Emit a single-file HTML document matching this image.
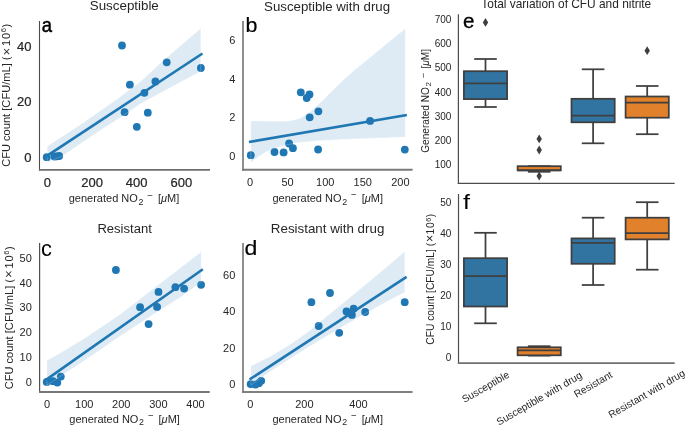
<!DOCTYPE html>
<html><head><meta charset="utf-8"><style>
html,body{margin:0;padding:0;background:#fff;}
body{width:685px;height:425px;overflow:hidden;}
svg{display:block;font-family:"Liberation Sans", sans-serif;will-change:transform;}
text.b{stroke:#262626;stroke-width:0.22px;}
</style></head><body>
<svg width="685" height="425" viewBox="0 0 685 425">
<rect width="685" height="425" fill="#fff"/>
<line x1="39.50" y1="21.00" x2="39.50" y2="170.70" stroke="#4d4d4d" stroke-width="1.1"/>
<line x1="38.95" y1="169.85" x2="210.00" y2="169.85" stroke="#6e6e6e" stroke-width="1.7"/>
<text x="124.30" y="10.30" font-size="13.35" text-anchor="middle" fill="#262626" >Susceptible</text>
<text transform="translate(41.80,32.30) scale(0.88,1)" x="0" y="0" font-size="21.0" fill="#000" stroke="#000" stroke-width="0.5">a</text>
<text class="b" x="31.50" y="162.05" font-size="13" text-anchor="end" fill="#262626" >0</text>
<text class="b" x="31.50" y="106.25" font-size="13" text-anchor="end" fill="#262626" >20</text>
<text class="b" x="31.50" y="50.55" font-size="13" text-anchor="end" fill="#262626" >40</text>
<text class="b" x="47.40" y="187.15" font-size="13" text-anchor="middle" fill="#262626" >0</text>
<text class="b" x="92.06" y="187.15" font-size="13" text-anchor="middle" fill="#262626" >200</text>
<text class="b" x="136.72" y="187.15" font-size="13" text-anchor="middle" fill="#262626" >400</text>
<text class="b" x="181.38" y="187.15" font-size="13" text-anchor="middle" fill="#262626" >600</text>
<text x="124.00" y="202.40" font-size="11" text-anchor="middle" fill="#262626">generated NO<tspan font-size="8.80" dx="0.66" dy="2.53">2</tspan><tspan font-size="9.68" dx="3.96" dy="-6.16">−</tspan><tspan dx="4.95" dy="3.63">[</tspan><tspan font-style="italic">μ</tspan>M]</text>
<text transform="translate(10.40,95.30) rotate(-90)" x="0" y="0" font-size="11.1" text-anchor="middle" fill="#262626">CFU count [CFU/mL] (<tspan font-size="13.32" dx="0.89" dy="0.22">×</tspan><tspan dx="1.78 0.89" dy="-0.22">10</tspan><tspan font-size="7.55" dx="0.67" dy="-4.11">6</tspan><tspan dx="0.44" dy="4.11">)</tspan></text>
<circle cx="122.00" cy="45.50" r="3.9" fill="#1f77b4"/>
<circle cx="166.70" cy="62.30" r="3.9" fill="#1f77b4"/>
<circle cx="200.90" cy="68.00" r="3.9" fill="#1f77b4"/>
<circle cx="129.90" cy="84.70" r="3.9" fill="#1f77b4"/>
<circle cx="155.40" cy="81.50" r="3.9" fill="#1f77b4"/>
<circle cx="144.40" cy="92.80" r="3.9" fill="#1f77b4"/>
<circle cx="124.60" cy="112.20" r="3.9" fill="#1f77b4"/>
<circle cx="147.80" cy="112.70" r="3.9" fill="#1f77b4"/>
<circle cx="136.80" cy="126.80" r="3.9" fill="#1f77b4"/>
<circle cx="46.70" cy="157.20" r="3.9" fill="#1f77b4"/>
<circle cx="54.50" cy="156.50" r="3.9" fill="#1f77b4"/>
<circle cx="57.00" cy="156.30" r="3.9" fill="#1f77b4"/>
<circle cx="59.20" cy="156.00" r="3.9" fill="#1f77b4"/>
<path d="M47.30,146.30 L80.00,125.00 L100.00,111.00 L120.00,97.00 L140.00,82.00 L165.00,59.00 L200.70,28.50 L200.70,71.20 L165.00,90.50 L140.00,104.00 L120.00,117.70 L100.00,130.50 L80.00,144.00 L62.70,155.70 L47.30,162.60 Z" fill="#1f77b4" fill-opacity="0.15"/>
<path d="M47.30,146.30 L80.00,125.00 L100.00,111.00 L120.00,97.00 L140.00,82.00 L165.00,59.00 L200.70,28.50 L200.70,71.20 L165.00,90.50 L140.00,104.00 L120.00,117.70 L100.00,130.50 L80.00,144.00 L62.70,155.70 L47.30,162.60 Z" fill="none" stroke="#fff" stroke-opacity="0.28" stroke-width="0.8"/>
<line x1="47.30" y1="155.60" x2="201.40" y2="54.20" stroke="#1f77b4" stroke-width="2.6" stroke-linecap="square"/>
<line x1="243.00" y1="21.00" x2="243.00" y2="170.65" stroke="#8a8a8a" stroke-width="1.9"/>
<line x1="242.05" y1="169.75" x2="412.60" y2="169.75" stroke="#7a7a7a" stroke-width="1.8"/>
<text x="327.10" y="10.50" font-size="13.25" text-anchor="middle" fill="#262626" >Susceptible with drug</text>
<text transform="translate(245.60,32.30) scale(1.02,1)" x="0" y="0" font-size="21.0" fill="#000" stroke="#000" stroke-width="0.2">b</text>
<text x="235.30" y="159.84" font-size="11" text-anchor="end" fill="#262626" >0</text>
<text x="235.30" y="121.34" font-size="11" text-anchor="end" fill="#262626" >2</text>
<text x="235.30" y="82.84" font-size="11" text-anchor="end" fill="#262626" >4</text>
<text x="235.30" y="44.34" font-size="11" text-anchor="end" fill="#262626" >6</text>
<text x="250.00" y="185.94" font-size="11" text-anchor="middle" fill="#262626" >0</text>
<text x="287.60" y="185.94" font-size="11" text-anchor="middle" fill="#262626" >50</text>
<text x="325.20" y="185.94" font-size="11" text-anchor="middle" fill="#262626" >100</text>
<text x="362.80" y="185.94" font-size="11" text-anchor="middle" fill="#262626" >150</text>
<text x="400.40" y="185.94" font-size="11" text-anchor="middle" fill="#262626" >200</text>
<text x="327.70" y="202.00" font-size="11" text-anchor="middle" fill="#262626">generated NO<tspan font-size="8.80" dx="0.66" dy="2.53">2</tspan><tspan font-size="9.68" dx="3.96" dy="-6.16">−</tspan><tspan dx="4.95" dy="3.63">[</tspan><tspan font-style="italic">μ</tspan>M]</text>
<circle cx="250.80" cy="155.20" r="3.9" fill="#1f77b4"/>
<circle cx="274.50" cy="152.00" r="3.9" fill="#1f77b4"/>
<circle cx="283.60" cy="152.40" r="3.9" fill="#1f77b4"/>
<circle cx="289.10" cy="143.50" r="3.9" fill="#1f77b4"/>
<circle cx="292.90" cy="148.20" r="3.9" fill="#1f77b4"/>
<circle cx="300.80" cy="92.30" r="3.9" fill="#1f77b4"/>
<circle cx="309.50" cy="94.40" r="3.9" fill="#1f77b4"/>
<circle cx="306.70" cy="98.00" r="3.9" fill="#1f77b4"/>
<circle cx="309.70" cy="117.30" r="3.9" fill="#1f77b4"/>
<circle cx="318.40" cy="111.30" r="3.9" fill="#1f77b4"/>
<circle cx="318.10" cy="149.50" r="3.9" fill="#1f77b4"/>
<circle cx="370.10" cy="120.90" r="3.9" fill="#1f77b4"/>
<circle cx="404.80" cy="149.60" r="3.9" fill="#1f77b4"/>
<path d="M250.80,120.90 L270.00,121.20 L285.00,121.30 L292.00,120.60 L300.60,118.30 L311.20,110.90 L321.70,101.40 L332.30,90.80 L342.90,80.40 L353.50,70.90 L370.00,57.40 L387.00,43.60 L405.20,28.80 L405.20,137.00 L365.00,138.40 L341.00,139.40 L317.00,140.80 L298.00,142.60 L286.50,144.90 L274.30,148.20 L265.50,151.90 L256.80,158.00 L250.80,162.60 Z" fill="#1f77b4" fill-opacity="0.15"/>
<path d="M250.80,120.90 L270.00,121.20 L285.00,121.30 L292.00,120.60 L300.60,118.30 L311.20,110.90 L321.70,101.40 L332.30,90.80 L342.90,80.40 L353.50,70.90 L370.00,57.40 L387.00,43.60 L405.20,28.80 L405.20,137.00 L365.00,138.40 L341.00,139.40 L317.00,140.80 L298.00,142.60 L286.50,144.90 L274.30,148.20 L265.50,151.90 L256.80,158.00 L250.80,162.60 Z" fill="none" stroke="#fff" stroke-opacity="0.28" stroke-width="0.8"/>
<line x1="250.20" y1="141.80" x2="405.60" y2="115.20" stroke="#1f77b4" stroke-width="2.6" stroke-linecap="square"/>
<line x1="39.60" y1="243.00" x2="39.60" y2="392.90" stroke="#505050" stroke-width="1.2"/>
<line x1="39.00" y1="392.00" x2="209.70" y2="392.00" stroke="#777777" stroke-width="1.8"/>
<text x="124.60" y="232.60" font-size="13.05" text-anchor="middle" fill="#262626" >Resistant</text>
<text transform="translate(41.00,255.70) scale(1.0,1)" x="0" y="0" font-size="21.8" fill="#000" stroke="#000" stroke-width="0.0">c</text>
<text x="31.80" y="385.64" font-size="11" text-anchor="end" fill="#262626" >0</text>
<text x="31.80" y="360.86" font-size="11" text-anchor="end" fill="#262626" >10</text>
<text x="31.80" y="336.08" font-size="11" text-anchor="end" fill="#262626" >20</text>
<text x="31.80" y="311.30" font-size="11" text-anchor="end" fill="#262626" >30</text>
<text x="31.80" y="286.52" font-size="11" text-anchor="end" fill="#262626" >40</text>
<text x="31.80" y="261.74" font-size="11" text-anchor="end" fill="#262626" >50</text>
<text x="47.10" y="408.14" font-size="11" text-anchor="middle" fill="#262626" >0</text>
<text x="84.20" y="408.14" font-size="11" text-anchor="middle" fill="#262626" >100</text>
<text x="121.30" y="408.14" font-size="11" text-anchor="middle" fill="#262626" >200</text>
<text x="158.40" y="408.14" font-size="11" text-anchor="middle" fill="#262626" >300</text>
<text x="195.50" y="408.14" font-size="11" text-anchor="middle" fill="#262626" >400</text>
<text x="124.60" y="422.60" font-size="11" text-anchor="middle" fill="#262626">generated NO<tspan font-size="8.80" dx="0.66" dy="2.53">2</tspan><tspan font-size="9.68" dx="3.96" dy="-6.16">−</tspan><tspan dx="4.95" dy="3.63">[</tspan><tspan font-style="italic">μ</tspan>M]</text>
<text transform="translate(12.80,317.80) rotate(-90)" x="0" y="0" font-size="11.1" text-anchor="middle" fill="#262626">CFU count [CFU/mL] (<tspan font-size="13.32" dx="0.89" dy="0.22">×</tspan><tspan dx="1.78 0.89" dy="-0.22">10</tspan><tspan font-size="7.55" dx="0.67" dy="-4.11">6</tspan><tspan dx="0.44" dy="4.11">)</tspan></text>
<circle cx="115.90" cy="270.00" r="3.9" fill="#1f77b4"/>
<circle cx="158.50" cy="291.90" r="3.9" fill="#1f77b4"/>
<circle cx="140.10" cy="307.20" r="3.9" fill="#1f77b4"/>
<circle cx="157.10" cy="306.90" r="3.9" fill="#1f77b4"/>
<circle cx="148.60" cy="324.10" r="3.9" fill="#1f77b4"/>
<circle cx="175.40" cy="287.20" r="3.9" fill="#1f77b4"/>
<circle cx="184.10" cy="288.60" r="3.9" fill="#1f77b4"/>
<circle cx="201.10" cy="284.80" r="3.9" fill="#1f77b4"/>
<circle cx="46.70" cy="381.90" r="3.9" fill="#1f77b4"/>
<circle cx="53.10" cy="381.20" r="3.9" fill="#1f77b4"/>
<circle cx="57.30" cy="382.60" r="3.9" fill="#1f77b4"/>
<circle cx="60.80" cy="376.60" r="3.9" fill="#1f77b4"/>
<path d="M47.00,360.60 L60.00,353.20 L84.70,338.20 L120.00,314.60 L150.00,291.20 L180.00,268.30 L201.10,251.90 L201.10,282.00 L180.00,297.50 L150.00,316.50 L120.00,336.20 L100.00,350.00 L80.00,363.50 L60.00,376.50 L47.00,385.00 Z" fill="#1f77b4" fill-opacity="0.15"/>
<path d="M47.00,360.60 L60.00,353.20 L84.70,338.20 L120.00,314.60 L150.00,291.20 L180.00,268.30 L201.10,251.90 L201.10,282.00 L180.00,297.50 L150.00,316.50 L120.00,336.20 L100.00,350.00 L80.00,363.50 L60.00,376.50 L47.00,385.00 Z" fill="none" stroke="#fff" stroke-opacity="0.28" stroke-width="0.8"/>
<line x1="46.70" y1="379.40" x2="201.80" y2="270.00" stroke="#1f77b4" stroke-width="2.6" stroke-linecap="square"/>
<line x1="243.00" y1="243.00" x2="243.00" y2="392.95" stroke="#8a8a8a" stroke-width="1.9"/>
<line x1="242.05" y1="392.00" x2="412.60" y2="392.00" stroke="#808080" stroke-width="1.9"/>
<text x="327.60" y="233.20" font-size="13.35" text-anchor="middle" fill="#262626" >Resistant with drug</text>
<text transform="translate(244.60,254.70) scale(1.1,1)" x="0" y="0" font-size="21.0" fill="#000" stroke="#000" stroke-width="0.15">d</text>
<text x="235.30" y="388.04" font-size="11" text-anchor="end" fill="#262626" >0</text>
<text x="235.30" y="351.74" font-size="11" text-anchor="end" fill="#262626" >20</text>
<text x="235.30" y="315.44" font-size="11" text-anchor="end" fill="#262626" >40</text>
<text x="235.30" y="279.14" font-size="11" text-anchor="end" fill="#262626" >60</text>
<text x="250.20" y="407.94" font-size="11" text-anchor="middle" fill="#262626" >0</text>
<text x="304.36" y="407.94" font-size="11" text-anchor="middle" fill="#262626" >200</text>
<text x="358.52" y="407.94" font-size="11" text-anchor="middle" fill="#262626" >400</text>
<text x="327.70" y="422.60" font-size="11" text-anchor="middle" fill="#262626">generated NO<tspan font-size="8.80" dx="0.66" dy="2.53">2</tspan><tspan font-size="9.68" dx="3.96" dy="-6.16">−</tspan><tspan dx="4.95" dy="3.63">[</tspan><tspan font-style="italic">μ</tspan>M]</text>
<circle cx="311.40" cy="302.20" r="3.9" fill="#1f77b4"/>
<circle cx="330.00" cy="293.00" r="3.9" fill="#1f77b4"/>
<circle cx="318.70" cy="326.00" r="3.9" fill="#1f77b4"/>
<circle cx="339.20" cy="332.80" r="3.9" fill="#1f77b4"/>
<circle cx="346.50" cy="311.40" r="3.9" fill="#1f77b4"/>
<circle cx="353.60" cy="308.70" r="3.9" fill="#1f77b4"/>
<circle cx="351.90" cy="314.90" r="3.9" fill="#1f77b4"/>
<circle cx="365.20" cy="312.00" r="3.9" fill="#1f77b4"/>
<circle cx="404.70" cy="302.20" r="3.9" fill="#1f77b4"/>
<circle cx="250.60" cy="384.10" r="3.9" fill="#1f77b4"/>
<circle cx="255.50" cy="384.60" r="3.9" fill="#1f77b4"/>
<circle cx="258.80" cy="383.20" r="3.9" fill="#1f77b4"/>
<circle cx="261.20" cy="380.80" r="3.9" fill="#1f77b4"/>
<path d="M251.00,366.00 L270.20,356.50 L289.40,345.00 L308.60,331.50 L327.80,315.40 L347.10,299.80 L366.30,284.00 L385.50,268.00 L404.70,251.40 L404.70,292.20 L385.50,302.20 L366.30,313.00 L347.10,324.10 L327.80,335.40 L308.60,347.10 L289.40,359.10 L270.20,371.40 L251.00,385.00 Z" fill="#1f77b4" fill-opacity="0.15"/>
<path d="M251.00,366.00 L270.20,356.50 L289.40,345.00 L308.60,331.50 L327.80,315.40 L347.10,299.80 L366.30,284.00 L385.50,268.00 L404.70,251.40 L404.70,292.20 L385.50,302.20 L366.30,313.00 L347.10,324.10 L327.80,335.40 L308.60,347.10 L289.40,359.10 L270.20,371.40 L251.00,385.00 Z" fill="none" stroke="#fff" stroke-opacity="0.28" stroke-width="0.8"/>
<line x1="250.60" y1="378.80" x2="405.50" y2="277.60" stroke="#1f77b4" stroke-width="2.6" stroke-linecap="square"/>
<line x1="458.40" y1="14.20" x2="458.40" y2="184.05" stroke="#4d4d4d" stroke-width="1.2"/>
<line x1="457.80" y1="183.40" x2="674.70" y2="183.40" stroke="#4d4d4d" stroke-width="1.3"/>
<text x="566.30" y="8.40" font-size="11.9" text-anchor="middle" fill="#262626" >Total variation of CFU and nitrite</text>
<text transform="translate(463.00,28.30) scale(0.98,1)" x="0" y="0" font-size="21.0" fill="#000" stroke="#000" stroke-width="0.35">e</text>
<text x="451.40" y="168.20" font-size="10" text-anchor="end" fill="#262626" >100</text>
<text x="451.40" y="143.98" font-size="10" text-anchor="end" fill="#262626" >200</text>
<text x="451.40" y="119.76" font-size="10" text-anchor="end" fill="#262626" >300</text>
<text x="451.40" y="95.54" font-size="10" text-anchor="end" fill="#262626" >400</text>
<text x="451.40" y="71.32" font-size="10" text-anchor="end" fill="#262626" >500</text>
<text x="451.40" y="47.10" font-size="10" text-anchor="end" fill="#262626" >600</text>
<text x="451.40" y="22.88" font-size="10" text-anchor="end" fill="#262626" >700</text>
<text transform="translate(429.00,100.90) rotate(-90)" x="0" y="0" font-size="10.1" text-anchor="middle" fill="#262626">Generated NO<tspan font-size="8.08" dx="0.61" dy="2.32">2</tspan><tspan font-size="8.89" dx="3.64" dy="-5.66">−</tspan><tspan dx="4.54" dy="3.33">[</tspan><tspan font-style="italic">μ</tspan>M]</text>
<line x1="485.50" y1="59.00" x2="485.50" y2="71.20" stroke="#3f3f3f" stroke-width="1.75"/>
<line x1="485.50" y1="99.10" x2="485.50" y2="107.00" stroke="#3f3f3f" stroke-width="1.75"/>
<line x1="474.20" y1="59.00" x2="496.80" y2="59.00" stroke="#3f3f3f" stroke-width="1.75"/>
<line x1="474.20" y1="107.00" x2="496.80" y2="107.00" stroke="#3f3f3f" stroke-width="1.75"/>
<rect x="463.90" y="71.20" width="43.20" height="27.90" fill="#3274a1" stroke="#3f3f3f" stroke-width="1.75"/>
<line x1="463.90" y1="83.40" x2="507.10" y2="83.40" stroke="#3f3f3f" stroke-width="1.75"/>
<line x1="539.20" y1="166.20" x2="539.20" y2="166.20" stroke="#3f3f3f" stroke-width="1.75"/>
<line x1="539.20" y1="170.30" x2="539.20" y2="171.80" stroke="#3f3f3f" stroke-width="1.75"/>
<line x1="527.90" y1="166.20" x2="550.50" y2="166.20" stroke="#3f3f3f" stroke-width="1.75"/>
<line x1="527.90" y1="171.80" x2="550.50" y2="171.80" stroke="#3f3f3f" stroke-width="1.75"/>
<rect x="517.60" y="166.20" width="43.20" height="4.10" fill="#e1812c" stroke="#3f3f3f" stroke-width="1.75"/>
<line x1="517.60" y1="170.30" x2="560.80" y2="170.30" stroke="#3f3f3f" stroke-width="1.75"/>
<line x1="593.10" y1="69.30" x2="593.10" y2="98.80" stroke="#3f3f3f" stroke-width="1.75"/>
<line x1="593.10" y1="122.30" x2="593.10" y2="143.30" stroke="#3f3f3f" stroke-width="1.75"/>
<line x1="581.80" y1="69.30" x2="604.40" y2="69.30" stroke="#3f3f3f" stroke-width="1.75"/>
<line x1="581.80" y1="143.30" x2="604.40" y2="143.30" stroke="#3f3f3f" stroke-width="1.75"/>
<rect x="571.50" y="98.80" width="43.20" height="23.50" fill="#3274a1" stroke="#3f3f3f" stroke-width="1.75"/>
<line x1="571.50" y1="115.50" x2="614.70" y2="115.50" stroke="#3f3f3f" stroke-width="1.75"/>
<line x1="647.20" y1="86.00" x2="647.20" y2="96.50" stroke="#3f3f3f" stroke-width="1.75"/>
<line x1="647.20" y1="117.70" x2="647.20" y2="134.20" stroke="#3f3f3f" stroke-width="1.75"/>
<line x1="635.90" y1="86.00" x2="658.50" y2="86.00" stroke="#3f3f3f" stroke-width="1.75"/>
<line x1="635.90" y1="134.20" x2="658.50" y2="134.20" stroke="#3f3f3f" stroke-width="1.75"/>
<rect x="625.60" y="96.50" width="43.20" height="21.20" fill="#e1812c" stroke="#3f3f3f" stroke-width="1.75"/>
<line x1="625.60" y1="102.70" x2="668.80" y2="102.70" stroke="#3f3f3f" stroke-width="1.75"/>
<path d="M485.50,18.00 L488.20,22.40 L485.50,26.80 L482.80,22.40 Z" fill="#3f3f3f"/>
<path d="M539.20,134.50 L541.90,138.90 L539.20,143.30 L536.50,138.90 Z" fill="#3f3f3f"/>
<path d="M539.20,145.60 L541.90,150.00 L539.20,154.40 L536.50,150.00 Z" fill="#3f3f3f"/>
<path d="M539.20,171.60 L541.90,176.00 L539.20,180.40 L536.50,176.00 Z" fill="#3f3f3f"/>
<path d="M647.20,46.30 L649.90,50.70 L647.20,55.10 L644.50,50.70 Z" fill="#3f3f3f"/>
<line x1="458.50" y1="194.00" x2="458.50" y2="363.90" stroke="#4d4d4d" stroke-width="1.2"/>
<line x1="457.90" y1="363.10" x2="674.70" y2="363.10" stroke="#707070" stroke-width="1.6"/>
<text transform="translate(462.90,208.70) scale(1.2,1)" x="0" y="0" font-size="21.0" fill="#000" stroke="#000" stroke-width="0.0">f</text>
<text x="451.30" y="360.58" font-size="10" text-anchor="end" fill="#262626" >0</text>
<text x="451.30" y="329.66" font-size="10" text-anchor="end" fill="#262626" >10</text>
<text x="451.30" y="298.74" font-size="10" text-anchor="end" fill="#262626" >20</text>
<text x="451.30" y="267.82" font-size="10" text-anchor="end" fill="#262626" >30</text>
<text x="451.30" y="236.90" font-size="10" text-anchor="end" fill="#262626" >40</text>
<text x="451.30" y="205.98" font-size="10" text-anchor="end" fill="#262626" >50</text>
<text transform="translate(434.20,279.30) rotate(-90)" x="0" y="0" font-size="10.25" text-anchor="middle" fill="#262626">CFU count [CFU/mL] (<tspan font-size="12.30" dx="0.82" dy="0.21">×</tspan><tspan dx="0.21 0.82" dy="-0.21">10</tspan><tspan font-size="7.38" dx="0.61" dy="-3.07">6</tspan><tspan dx="0.41" dy="3.07">)</tspan></text>
<line x1="485.50" y1="232.80" x2="485.50" y2="258.20" stroke="#3f3f3f" stroke-width="1.75"/>
<line x1="485.50" y1="306.50" x2="485.50" y2="323.30" stroke="#3f3f3f" stroke-width="1.75"/>
<line x1="474.20" y1="232.80" x2="496.80" y2="232.80" stroke="#3f3f3f" stroke-width="1.75"/>
<line x1="474.20" y1="323.30" x2="496.80" y2="323.30" stroke="#3f3f3f" stroke-width="1.75"/>
<rect x="463.90" y="258.20" width="43.20" height="48.30" fill="#3274a1" stroke="#3f3f3f" stroke-width="1.75"/>
<line x1="463.90" y1="276.00" x2="507.10" y2="276.00" stroke="#3f3f3f" stroke-width="1.75"/>
<line x1="539.20" y1="346.20" x2="539.20" y2="347.30" stroke="#3f3f3f" stroke-width="1.75"/>
<line x1="539.20" y1="355.30" x2="539.20" y2="355.60" stroke="#3f3f3f" stroke-width="1.75"/>
<line x1="527.90" y1="346.20" x2="550.50" y2="346.20" stroke="#3f3f3f" stroke-width="1.75"/>
<line x1="527.90" y1="355.60" x2="550.50" y2="355.60" stroke="#3f3f3f" stroke-width="1.75"/>
<rect x="517.60" y="347.30" width="43.20" height="8.00" fill="#e1812c" stroke="#3f3f3f" stroke-width="1.75"/>
<line x1="517.60" y1="350.30" x2="560.80" y2="350.30" stroke="#3f3f3f" stroke-width="1.75"/>
<line x1="593.10" y1="217.70" x2="593.10" y2="238.40" stroke="#3f3f3f" stroke-width="1.75"/>
<line x1="593.10" y1="263.80" x2="593.10" y2="285.00" stroke="#3f3f3f" stroke-width="1.75"/>
<line x1="581.80" y1="217.70" x2="604.40" y2="217.70" stroke="#3f3f3f" stroke-width="1.75"/>
<line x1="581.80" y1="285.00" x2="604.40" y2="285.00" stroke="#3f3f3f" stroke-width="1.75"/>
<rect x="571.50" y="238.40" width="43.20" height="25.40" fill="#3274a1" stroke="#3f3f3f" stroke-width="1.75"/>
<line x1="571.50" y1="242.80" x2="614.70" y2="242.80" stroke="#3f3f3f" stroke-width="1.75"/>
<line x1="647.20" y1="202.20" x2="647.20" y2="217.70" stroke="#3f3f3f" stroke-width="1.75"/>
<line x1="647.20" y1="239.40" x2="647.20" y2="269.70" stroke="#3f3f3f" stroke-width="1.75"/>
<line x1="635.90" y1="202.20" x2="658.50" y2="202.20" stroke="#3f3f3f" stroke-width="1.75"/>
<line x1="635.90" y1="269.70" x2="658.50" y2="269.70" stroke="#3f3f3f" stroke-width="1.75"/>
<rect x="625.60" y="217.70" width="43.20" height="21.70" fill="#e1812c" stroke="#3f3f3f" stroke-width="1.75"/>
<line x1="625.60" y1="233.20" x2="668.80" y2="233.20" stroke="#3f3f3f" stroke-width="1.75"/>
<text transform="translate(485.50,386.86) rotate(-30)" x="0" y="3.57" font-size="10.2" text-anchor="middle" fill="#262626">Susceptible</text>
<text transform="translate(539.20,398.32) rotate(-30)" x="0" y="3.57" font-size="10.2" text-anchor="middle" fill="#262626">Susceptible with drug</text>
<text transform="translate(593.10,384.31) rotate(-30)" x="0" y="3.57" font-size="10.2" text-anchor="middle" fill="#262626">Resistant</text>
<text transform="translate(646.60,393.76) rotate(-30)" x="0" y="3.57" font-size="10.2" text-anchor="middle" fill="#262626">Resistant with drug</text>
</svg>
</body></html>
